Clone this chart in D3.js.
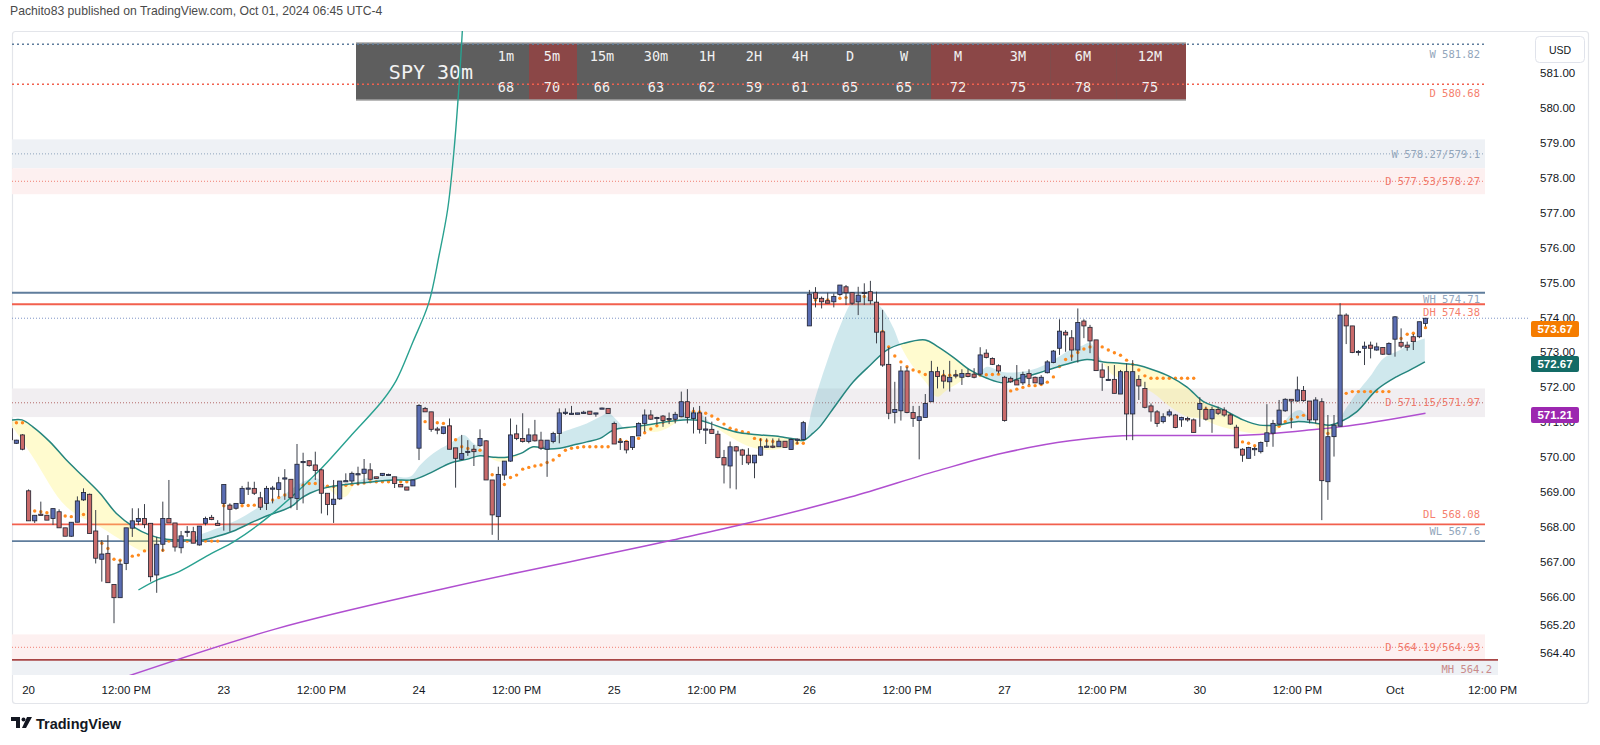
<!DOCTYPE html>
<html><head><meta charset="utf-8">
<script src="https://cdn.jsdelivr.net/npm/d3@7"></script>
<style>html,body{margin:0;padding:0;background:#fff}svg{display:block}</style>
</head><body>
<svg id="c" width="1600" height="745"></svg>
<script>
// ---------------- DATA ----------------
const firstBar = -3; // bar index of first candle (0 = Sep 20 04:00, 30-min bars, 32 per day)
const opens = [570.82,570.40,570.64,
 569.04,568.18,568.37,568.34,568.25,568.44,567.98,567.74,568.14,568.78,568.94,567.89,567.08,567.25,566.36,565.98,566.96,567.97,568.16,568.25,568.11,566.63,567.51,568.25,568.12,567.41,567.87,567.87,567.49,568.11,568.28,568.11,
 568.68,568.63,568.54,568.68,569.10,569.11,568.84,568.68,569.10,569.08,569.39,569.37,568.82,569.86,569.90,569.78,569.64,568.97,568.65,568.81,569.31,569.32,569.51,569.54,569.64,569.44,569.48,569.50,569.44,569.22,569.15,569.18,
 570.26,571.40,571.30,570.81,570.68,570.90,570.27,569.94,570.16,570.23,570.33,570.47,569.35,568.30,569.49,569.89,570.67,570.54,570.45,570.64,570.49,570.23,570.45,570.68,571.27,571.24,571.23,571.28,571.32,571.25,571.40,571.40,
 570.97,570.45,570.45,570.28,570.61,570.97,571.21,571.13,571.18,571.10,571.09,571.16,571.59,571.11,571.27,570.80,570.80,570.66,569.99,569.75,570.30,570.21,570.06,569.84,570.06,570.31,570.32,570.30,570.46,570.22,570.51,570.51,
 573.76,574.71,574.55,574.48,574.45,574.66,574.88,574.71,574.45,574.70,574.74,574.44,573.59,572.66,571.28,571.33,572.47,571.28,571.05,571.14,571.59,572.45,572.33,572.16,572.34,572.29,572.40,572.38,572.38,572.98,572.83,572.62,
 572.29,572.26,572.21,572.13,572.40,572.29,572.10,572.42,572.71,573.12,573.58,573.42,573.07,573.90,573.72,573.36,572.50,572.23,572.23,571.81,572.45,571.24,572.23,571.97,571.47,571.30,571.02,571.21,571.21,571.07,571.11,571.07,
 571.37,571.37,571.10,571.37,571.35,571.21,570.86,570.23,569.97,570.24,570.16,570.45,570.69,570.95,571.33,571.66,571.61,571.91,571.61,571.07,571.59,569.30,570.59,570.89,574.07,573.76,573.02,573.12,573.21,573.07,573.14,572.95,
 573.38,573.29,573.21,573.45,573.45,573.83];
const highs = [570.85,570.50,570.66,
 569.08,568.34,568.73,568.34,568.53,568.51,567.98,568.14,568.88,569.11,568.96,568.49,567.63,567.77,566.36,567.06,567.98,568.54,568.54,568.66,568.11,567.72,568.73,569.35,568.12,567.89,568.03,568.01,568.03,568.30,568.35,568.20,
 569.22,568.68,568.68,569.18,569.30,569.30,569.01,569.18,569.18,569.44,569.66,569.37,570.38,570.13,569.92,570.16,569.66,568.97,569.35,569.32,569.54,569.59,569.73,569.95,569.83,569.44,569.54,569.53,569.44,569.22,569.15,569.35,
 571.52,571.44,571.30,570.87,570.87,571.11,570.27,570.64,570.49,570.35,570.80,570.49,569.35,569.73,569.89,571.11,570.93,571.26,570.83,571.07,570.73,570.49,570.73,571.40,571.40,571.47,571.27,571.33,571.32,571.27,571.42,571.40,
 571.02,570.55,570.45,570.59,571.00,571.37,571.35,571.16,571.21,571.28,571.30,571.88,571.95,571.43,571.47,571.16,571.02,570.76,570.21,570.45,570.32,570.24,570.26,570.06,570.54,570.54,570.54,570.54,570.46,570.54,570.54,571.04,
 574.79,574.87,574.60,574.71,574.69,574.93,574.93,574.71,574.88,574.98,575.05,574.74,574.22,573.15,572.16,572.61,572.59,571.47,571.47,571.81,572.76,572.59,572.50,572.76,572.50,572.52,572.52,572.55,573.15,573.09,572.86,572.66,
 572.33,572.31,572.64,572.45,572.52,572.31,572.35,572.78,573.07,573.95,573.64,573.64,574.26,573.95,573.79,573.36,572.69,572.61,572.64,572.50,572.69,572.78,572.35,572.16,571.54,571.35,571.26,571.37,571.24,571.16,571.16,571.11,
 571.72,571.45,571.45,571.45,571.43,571.26,570.93,570.26,570.30,570.30,570.45,571.52,571.07,571.64,571.69,571.66,572.31,572.04,571.61,571.72,571.69,571.21,571.21,574.41,574.12,573.76,573.07,573.31,573.31,573.28,573.15,573.29,
 574.04,573.69,573.31,573.53,573.88,573.98];
const lows = [570.48,570.38,570.20,
 568.18,568.12,568.34,568.20,568.06,567.98,567.74,567.72,568.14,568.75,567.82,566.96,566.44,566.41,565.25,565.98,566.77,567.72,568.06,567.97,566.44,566.12,567.30,568.12,567.30,567.25,567.72,567.54,567.47,568.05,568.20,568.05,
 567.90,567.87,568.50,568.68,568.92,568.92,568.49,568.49,568.68,568.87,568.78,568.54,568.49,568.68,569.73,569.35,568.39,568.34,568.12,568.78,569.30,569.25,569.20,569.25,569.37,569.39,569.46,569.48,569.12,569.15,569.06,569.18,
 569.92,571.30,570.73,570.66,570.66,570.23,569.13,569.92,570.04,569.75,570.30,569.35,567.78,567.63,569.35,569.87,570.49,570.42,570.40,570.45,570.21,569.44,570.40,570.40,571.21,571.23,571.23,571.25,571.23,571.16,571.38,571.25,
 570.38,570.21,570.11,570.21,570.61,570.73,571.07,570.93,570.87,570.95,570.97,571.16,570.97,570.68,570.68,570.38,570.68,569.97,569.25,569.11,569.08,569.78,569.78,569.40,570.04,570.27,570.26,570.30,570.28,570.21,570.38,570.49,
 573.76,574.29,574.26,574.41,574.29,574.62,574.36,574.36,574.07,574.36,574.38,573.26,572.59,571.09,570.97,571.05,571.26,570.87,569.94,571.14,571.59,571.97,571.97,571.88,572.26,572.07,572.29,572.26,572.33,572.83,572.64,572.40,
 571.02,572.13,572.07,572.07,572.07,572.12,572.07,572.40,572.69,572.93,573.02,572.76,572.71,573.41,572.98,572.48,571.90,572.21,571.83,571.81,570.49,570.49,571.64,571.40,571.02,570.87,570.97,571.16,570.83,570.87,571.02,570.71,
 570.87,571.05,570.70,571.21,571.16,570.93,570.26,569.87,569.97,570.04,570.11,570.30,570.30,570.92,571.30,570.83,571.59,571.59,570.97,570.97,568.20,568.78,570.02,570.89,573.24,572.98,572.91,572.64,572.83,573.05,572.93,572.93,
 572.88,573.12,573.05,573.07,573.41,573.74];
const closes = [570.50,570.49,570.23,
 568.18,568.34,568.35,568.20,568.53,567.98,567.74,568.14,568.75,568.99,567.82,567.11,567.23,566.41,565.98,566.94,567.98,568.18,568.25,568.08,566.58,567.51,568.25,568.12,567.43,567.75,567.88,567.54,568.03,568.25,568.22,568.05,
 569.22,568.51,568.68,569.11,569.12,568.97,568.57,569.11,569.12,569.27,569.41,568.84,569.80,569.88,569.76,569.62,568.97,568.65,568.80,569.32,569.33,569.54,569.53,569.66,569.37,569.39,569.54,569.51,569.25,569.15,569.06,569.35,
 571.48,571.30,570.80,570.80,570.87,570.23,569.97,570.11,570.17,570.16,570.54,569.35,568.35,569.51,569.89,570.64,570.54,570.45,570.64,570.47,570.26,570.49,570.68,571.27,571.29,571.26,571.27,571.29,571.23,571.27,571.41,571.25,
 570.38,570.46,570.21,570.59,570.97,571.21,571.09,571.14,571.05,571.11,571.23,571.59,571.14,571.27,570.80,570.81,570.68,569.99,569.78,570.30,570.18,570.06,569.84,570.06,570.30,570.32,570.31,570.46,570.28,570.51,570.52,570.99,
 574.67,574.55,574.45,574.41,574.60,574.93,574.71,574.41,574.64,574.72,574.48,573.58,572.64,571.26,571.37,572.47,571.28,571.11,571.16,571.54,572.45,572.31,572.18,572.29,572.36,572.40,572.31,572.29,572.93,572.86,572.66,572.47,
 571.05,572.16,572.07,572.37,572.26,572.13,572.29,572.73,573.04,573.61,573.50,573.07,573.86,573.76,573.33,572.48,572.29,572.23,571.83,572.45,571.24,572.45,572.04,571.43,571.30,570.97,571.16,571.30,570.85,571.14,571.07,570.71,
 571.54,571.09,571.37,571.26,571.21,570.95,570.27,570.06,570.28,570.25,570.42,570.70,570.97,571.35,571.66,571.61,571.93,571.62,571.07,571.64,569.33,570.59,570.92,574.07,573.76,573.00,573.03,573.18,573.12,573.16,572.95,573.26,
 574.02,573.18,573.15,573.31,573.88,573.98];
// session VWAP dots (one per bar)
const vwap = [570.99,570.99,570.99,
 568.47,568.46,568.44,568.41,568.39,568.36,568.32,568.30,568.32,568.36,568.15,567.82,567.54,567.39,567.08,567.05,567.03,567.17,567.20,567.32,567.29,567.29,567.34,567.60,567.60,567.60,567.60,567.60,567.60,567.60,567.60,567.60,
 568.61,568.60,568.60,568.61,568.62,568.63,568.68,568.72,568.78,568.85,568.92,569.01,569.10,569.20,569.25,569.25,569.22,569.17,569.16,569.18,569.20,569.22,569.24,569.26,569.30,569.30,569.30,569.30,569.30,569.30,569.30,569.30,
 571.00,571.02,571.00,570.99,570.97,570.87,570.50,570.30,570.25,570.20,570.20,570.10,569.50,569.15,569.22,569.42,569.49,569.66,569.71,569.75,569.78,569.85,569.92,570.05,570.20,570.26,570.28,570.30,570.30,570.30,570.30,570.30,
 570.55,570.50,570.45,570.45,570.54,570.70,570.81,570.90,571.00,571.05,571.07,571.19,571.38,571.32,571.30,571.26,571.18,571.09,570.95,570.83,570.78,570.73,570.70,570.54,570.50,570.47,570.45,570.43,570.42,570.41,570.40,570.40,
 574.40,574.50,574.50,574.50,574.52,574.55,574.57,574.57,574.57,574.60,574.60,574.25,573.60,573.16,572.90,572.73,572.59,572.50,572.45,572.37,572.35,572.35,572.35,572.35,572.35,572.35,572.35,572.35,572.35,572.36,572.37,572.38,
 571.60,571.90,571.95,572.00,572.05,572.05,572.08,572.15,572.30,572.60,572.80,572.90,573.00,573.10,573.16,573.16,573.16,573.07,572.99,572.92,572.78,572.66,572.50,572.33,572.26,572.26,572.26,572.26,572.26,572.26,572.26,572.26,
 571.50,571.38,571.32,571.30,571.28,571.20,570.73,570.44,570.40,570.33,570.35,570.50,570.70,570.89,571.02,571.09,571.15,571.20,571.24,571.26,570.90,570.68,570.70,571.60,571.83,571.88,571.88,571.88,571.88,571.88,571.88,571.88,
 573.55,573.40,573.52,573.55,573.60,573.71];
// slow EMA (drawn teal line), read at bar positions
const slowIdx = [-3.3,-1.1,0.7,3.5,6.2,9.0,11.7,14.4,17.2,19.9,22.6,25.9,28.1,30.8,33.6,36.3,39.0,41.8,43.4,44.5,46.1,48.3,51.0,55.4,59.8,63.1,66.3,69.1,71.8,74.0,76.2,78.4,80.7,82.7,84.9,87.1,89.3,91.5,93.7,95.9,99.1,101.9,104.6,107.3,110.1,111.7,113.9,116.6,119.9,123.2,125.9,127.0,128.6,129.7,132.5,135.2,138.0,140.7,143.4,147.0,148.9,151.6,154.3,157.1,159.8,162.5,165.3,168.0,170.7,173.5,176.2,178.9,181.7,184.4,187.1,189.9,192.6,195.4,199.1,201.8,204.6,207.9,211.2,213.3,215.0,217.7,221.0,224.3,226.5,228.9];
const slowVal = [571.05,571.07,570.87,570.44,569.92,569.44,568.97,568.39,568.01,567.77,567.65,567.63,567.62,567.73,567.89,568.11,568.32,568.49,568.63,568.80,568.97,569.11,569.20,569.28,569.35,569.36,569.59,569.83,569.94,570.04,570.00,570.00,570.11,570.30,570.24,570.26,570.35,570.44,570.54,570.78,570.87,570.94,571.02,571.07,571.05,570.97,570.83,570.70,570.64,570.59,570.51,570.48,570.69,570.87,571.54,572.16,572.64,573.07,573.26,573.36,573.18,572.86,572.50,572.26,572.13,572.26,572.40,572.55,572.69,572.80,572.73,572.69,572.64,572.50,572.31,572.01,571.59,571.40,571.07,570.92,570.92,571.02,570.97,570.92,571.01,571.30,571.93,572.31,572.50,572.73];
// fast EMA (cloud edge, not drawn as a line)
const fastIdx = [-3.3,0.8,6.2,11.7,16.1,19.4,21.5,23.0,26.0,28.6,34.1,37.9,41.8,44.5,47.2,48.9,51.0,52.2,53.5,55.4,59.8,62.5,64.2,66.3,69.1,71.3,72.9,74.5,75.6,77.3,79.5,81.7,84.9,87.1,89.3,91.5,93.7,95.0,96.4,97.8,99.1,103.0,106.0,107.9,110.1,112.2,115.5,118.3,121.0,123.7,125.9,127.0,128.6,130.8,133.0,135.2,136.8,139.0,140.1,141.8,142.9,145.0,147.2,148.9,150.5,152.7,154.3,155.6,157.1,159.7,162.5,165.3,168.0,170.7,172.9,174.0,175.6,177.8,180.6,184.4,187.1,189.9,192.1,194.8,199.1,201.8,204.6,206.8,208.4,210.0,211.7,213.3,215.0,215.5,217.7,219.9,222.1,224.8,226.5,228.9];
const fastVal = [571.05,569.98,568.58,568.01,567.54,567.30,567.60,567.66,567.66,567.82,568.20,568.58,568.92,569.25,569.40,569.15,568.86,568.90,569.25,569.41,569.46,569.44,569.78,570.11,570.40,570.64,570.40,570.21,570.00,569.87,569.97,570.21,570.35,570.68,570.83,570.97,571.16,571.26,571.07,570.82,570.84,570.73,570.98,571.32,571.24,570.92,570.54,570.30,570.21,570.26,570.35,570.48,571.49,572.69,573.74,574.50,574.64,574.41,574.22,573.69,573.21,572.59,572.12,571.73,571.92,572.16,572.40,572.38,572.59,572.44,572.44,572.55,572.78,573.07,573.21,573.28,572.84,572.35,572.21,571.83,571.45,571.16,571.11,570.92,570.73,570.68,570.78,571.21,571.35,571.12,570.78,570.64,571.07,571.26,571.83,572.31,572.83,573.07,573.26,573.40];
// long moving average (purple)
const maIdx = [14,40.4,69.1,105.6,118.3,134.7,149.9,159.8,170.7,181.7,196.9,211.2,215,229];
const maVal = [563.60,565.08,566.28,567.63,568.13,568.86,569.66,570.12,570.47,570.62,570.62,570.80,570.87,571.26];
// curved trend drawing (teal arc)
const arcIdx = [18.0,21.1,24.6,30.0,33.6,39.0,47.2,52.7,58.1,60.3,63.0,65.6,67.3,68.7,69.7,70.6,71.2];
const arcVal = [566.20,566.49,566.72,567.25,567.58,568.25,569.54,570.59,571.64,572.21,573.30,574.42,575.79,577.10,578.71,580.74,582.50];
// key levels
const levelNames = ["W 581.82","D 580.68","WH 574.71","DH 574.38","DL 568.08","WL 567.6","MH 564.2"];
const levelValues = [581.82,580.68,574.71,574.38,568.08,567.6,564.2];
const zoneNames = ["W 578.27/579.1","D 577.53/578.27","D 571.15/571.97","D 564.19/564.93",""];
const zoneLow = [578.27,577.53,571.15,564.19,563.5];
const zoneHigh = [579.1,578.27,571.97,564.93,564.2];
// axis
const priceTicks = [581,580,579,578,577,576,575,574,573,572,571,570,569,568,567,566,565.2,564.4];
const timeTickIdx = [0,16,32,48,64,80,96,112,128,144,160,176,192,208,224,240];
const timeTickLabels = ["20","12:00 PM","23","12:00 PM","24","12:00 PM","25","12:00 PM","26","12:00 PM","27","12:00 PM","30","12:00 PM","Oct","12:00 PM"];
const badgeValues = [573.67,572.67,571.21];
// RSI table
const tfLabels = ["1m","5m","15m","30m","1H","2H","4H","D","W","M","3M","6M","12M"];
const tfValues = [68,70,66,63,62,59,61,65,65,72,75,78,75];
const tableTitle = "SPY 30m";

// ---------------- LAYOUT / STYLE ----------------
const svg = d3.select("#c");
const P = {left:12, right:1528, top:31, bottom:675};
const x = d3.scaleLinear().domain([0,240]).range([28.6,1492.6]);
const y = d3.scaleLinear().domain([566,581]).range([597,73]);
const mono = "'DejaVu Sans Mono', monospace";
const sans = "'Liberation Sans', Arial, sans-serif";
const levelEnd = 1485;

const defs = svg.append("defs");
defs.append("clipPath").attr("id","pc").append("rect")
  .attr("x",P.left).attr("y",P.top).attr("width",P.right-P.left).attr("height",P.bottom-P.top);

// header
svg.append("text").attr("x",10).attr("y",15).attr("font-family",sans).attr("font-size",12.2)
  .attr("fill","#4a4a4a").text("Pachito83 published on TradingView.com, Oct 01, 2024 06:45 UTC-4");

// frame
svg.append("rect").attr("x",12.5).attr("y",31.5).attr("width",1576).attr("height",672).attr("rx",3)
  .attr("fill","none").attr("stroke","#e3e5ea").attr("stroke-width",1.2);

const g = svg.append("g").attr("clip-path","url(#pc)");

// zones
const zoneFill = n => n.startsWith("W") ? "#eef1f5" : (n.indexOf("571")>=0 ? "#f1eef1" : (n==="" ? "#eef1f5" : "#fdf0f0"));
const zoneLine = n => n.startsWith("W") ? "#8fa5bc" : (n.indexOf("571")>=0 ? "#b56a6a" : "#f07f72");
zoneNames.forEach((n,k)=>{
  const yt = y(zoneHigh[k]), yb = y(zoneLow[k]);
  g.append("rect").attr("x",P.left).attr("y",yt).attr("width",(n===""?1498:levelEnd)-P.left).attr("height",yb-yt).attr("fill",zoneFill(n));
  if(n!==""){
    const ym = y((zoneHigh[k]+zoneLow[k])/2);
    g.append("line").attr("x1",P.left).attr("x2",levelEnd).attr("y1",ym).attr("y2",ym)
      .attr("stroke",zoneLine(n)).attr("stroke-width",1).attr("stroke-dasharray","1,2");
  }
});

// table (under drawings)
const tX0 = 356, tX1 = 1186, tY0 = 43, tY1 = 100;
const colC = [506,552,602,656,707,754,800,850,904,958,1018,1083,1150];
svg.append("rect").attr("x",tX0).attr("y",tY0).attr("width",tX1-tX0).attr("height",tY1-tY0).attr("fill","#5e5e5e");
colC.forEach((c,k)=>{
  const l = k===0 ? 483 : (colC[k-1]+c)/2;
  const r = k===colC.length-1 ? tX1 : (c+colC[k+1])/2;
  if(tfValues[k]>=70) svg.append("rect").attr("x",l).attr("y",tY0).attr("width",r-l).attr("height",tY1-tY0).attr("fill","#8b4747");
  svg.append("text").attr("x",c).attr("y",61).attr("text-anchor","middle").attr("font-family",mono).attr("font-size",13.5).attr("fill","#f2f2f2").text(tfLabels[k]);
  svg.append("text").attr("x",c).attr("y",92).attr("text-anchor","middle").attr("font-family",mono).attr("font-size",13.5).attr("fill","#f2f2f2").text(tfValues[k]);
});
svg.append("text").attr("x",431).attr("y",79).attr("text-anchor","middle").attr("font-family",mono).attr("font-size",20).attr("fill","#f2f2f2").text(tableTitle);
[tY0,tY1].forEach(v=>svg.append("line").attr("x1",tX0).attr("x2",tX1).attr("y1",v).attr("y2",v).attr("stroke","#a3a3a3").attr("stroke-width",1.5));

const g2 = svg.append("g").attr("clip-path","url(#pc)");
// level lines
levelNames.forEach((n,k)=>{
  const yy = y(levelValues[k]);
  const isW = n.startsWith("W"), isM = n.startsWith("M");
  const dotted = (n.indexOf(" ")===1);
  const col = isM ? "#a84646" : (isW ? "#5f7d9c" : "#f2604e");
  g2.append("line").attr("x1",P.left).attr("x2",isM?1498:levelEnd).attr("y1",yy).attr("y2",yy)
    .attr("stroke",col).attr("stroke-width",dotted?1.5:1.8).attr("stroke-dasharray",dotted?"2,3":null);
});
// last price line
const lastClose = closes[closes.length-1];
g2.append("line").attr("x1",P.left).attr("x2",P.right).attr("y1",y(lastClose)).attr("y2",y(lastClose))
  .attr("stroke","#7d93c7").attr("stroke-width",1).attr("stroke-dasharray","1,2");

// EMA cloud
const ln = d3.line().x(d=>x(d[0])).y(d=>y(d[1])).curve(d3.curveCatmullRom.alpha(0.5));
const slowPts = slowIdx.map((v,k)=>[v,slowVal[k]]);
const fastPts = fastIdx.map((v,k)=>[v,fastVal[k]]);
const slowD = ln(slowPts), fastD = ln(fastPts), slowRev = ln(slowPts.slice().reverse());
const band = fastD + "L" + slowRev.slice(1) + "Z";
const x0 = x(slowIdx[0]), xn = x(slowIdx[slowIdx.length-1]);
defs.append("clipPath").attr("id","above").append("path").attr("d","M"+x0+","+P.top+"L"+slowD.slice(1)+"L"+xn+","+P.top+"Z");
defs.append("clipPath").attr("id","below").append("path").attr("d","M"+x0+","+P.bottom+"L"+slowD.slice(1)+"L"+xn+","+P.bottom+"Z");
g2.append("g").attr("clip-path","url(#above)").append("path").attr("d",band).attr("fill","rgba(95,178,195,0.30)");
g2.append("g").attr("clip-path","url(#below)").append("path").attr("d",band).attr("fill","rgba(255,244,110,0.33)");

// VWAP dots
vwap.forEach((v,k)=>{ if(v==null) return;
  g2.append("circle").attr("cx",x(firstBar+k)).attr("cy",y(v)).attr("r",1.7).attr("fill","#ff8a1e"); });

// slow EMA line
g2.append("path").attr("d",slowD).attr("fill","none").attr("stroke","#25857e").attr("stroke-width",1.5);
// purple MA
g2.append("path").attr("d",d3.line().x(d=>x(d[0])).y(d=>y(d[1])).curve(d3.curveMonotoneX)(maIdx.map((v,k)=>[v,maVal[k]])))
  .attr("fill","none").attr("stroke","#b04fd0").attr("stroke-width",1.5);
// arc
g2.append("path").attr("d",ln(arcIdx.map((v,k)=>[v,arcVal[k]]))).attr("fill","none").attr("stroke","#29a190").attr("stroke-width",1.4);

// candles
const bw = 4.2;
opens.forEach((o,k)=>{
  const i = firstBar+k, cx = x(i), c = closes[k];
  const up = c>=o;
  g2.append("line").attr("x1",cx).attr("x2",cx).attr("y1",y(highs[k])).attr("y2",y(lows[k]))
    .attr("stroke","#3b3f48").attr("stroke-width",1);
  const yt = y(Math.max(o,c)), yb = y(Math.min(o,c));
  g2.append("rect").attr("x",cx-bw/2).attr("y",yt).attr("width",bw).attr("height",Math.max(1.2,yb-yt))
    .attr("fill",up?"#5a6db3":"#c96a6a").attr("stroke","#1e2230").attr("stroke-width",0.8);
});

// level labels
const lblOff = {"W 581.82":10,"D 580.68":9,"WH 574.71":7,"DH 574.38":8,"DL 568.08":-10,"WL 567.6":-10,"MH 564.2":9};
levelNames.forEach((n,k)=>{
  const isW = n.startsWith("W"), isM = n.startsWith("M");
  svg.append("text").attr("x",isM?1492:1480).attr("y",y(levelValues[k])+lblOff[n]).attr("dy","0.35em").attr("text-anchor","end")
    .attr("font-family",mono).attr("font-size",10.5).attr("fill",isM?"#c98a8a":(isW?"#93a6bb":"#f57f6e")).text(n);
});
zoneNames.forEach((n,k)=>{ if(n==="") return;
  svg.append("text").attr("x",1480).attr("y",y((zoneHigh[k]+zoneLow[k])/2)).attr("dy","0.35em").attr("text-anchor","end")
    .attr("font-family",mono).attr("font-size",10.5).attr("fill",n.startsWith("W")?"#93a6bb":"#f07a6c").text(n);
});

// x axis
timeTickIdx.forEach((t,k)=>{
  svg.append("text").attr("x",x(t)).attr("y",694).attr("text-anchor","middle").attr("font-family",sans)
    .attr("font-size",11.5).attr("fill","#131722").text(timeTickLabels[k]);
});
// price axis
priceTicks.forEach(p=>{
  svg.append("text").attr("x",1540).attr("y",y(p)).attr("dy","0.35em").attr("font-family",sans)
    .attr("font-size",11.5).attr("fill","#131722").text(p.toFixed(2));
});
// USD button
svg.append("rect").attr("x",1535.5).attr("y",36.5).attr("width",49).attr("height",26).attr("rx",4)
  .attr("fill","#fff").attr("stroke","#e0e3eb");
svg.append("text").attr("x",1560).attr("y",50).attr("dy","0.35em").attr("text-anchor","middle").attr("font-family",sans)
  .attr("font-size",10.5).attr("fill","#131722").text("USD");
// badges
const badgeCol = ["#f57c00","#136b66","#9c27b0"];
badgeValues.forEach((v,k)=>{
  const yy = y(v);
  svg.append("rect").attr("x",1531).attr("y",yy-8).attr("width",48).attr("height",16).attr("rx",2).attr("fill",badgeCol[k]);
  svg.append("text").attr("x",1555).attr("y",yy).attr("dy","0.36em").attr("text-anchor","middle").attr("font-family",sans)
    .attr("font-size",11.5).attr("font-weight","bold").attr("fill","#fff").text(v.toFixed(2));
});

// footer logo
const lg = svg.append("g").attr("fill","#131722");
lg.append("path").attr("d","M11,717 h9 v11 h-4 v-7 h-5 z");
lg.append("circle").attr("cx",23.5).attr("cy",719.5).attr("r",2);
lg.append("path").attr("d","M27,717 h5 l-6,11 h-4 z");
svg.append("text").attr("x",36).attr("y",729).attr("font-family",sans).attr("font-size",14.5).attr("font-weight","bold")
  .attr("fill","#131722").text("TradingView");
</script>
</body></html>
